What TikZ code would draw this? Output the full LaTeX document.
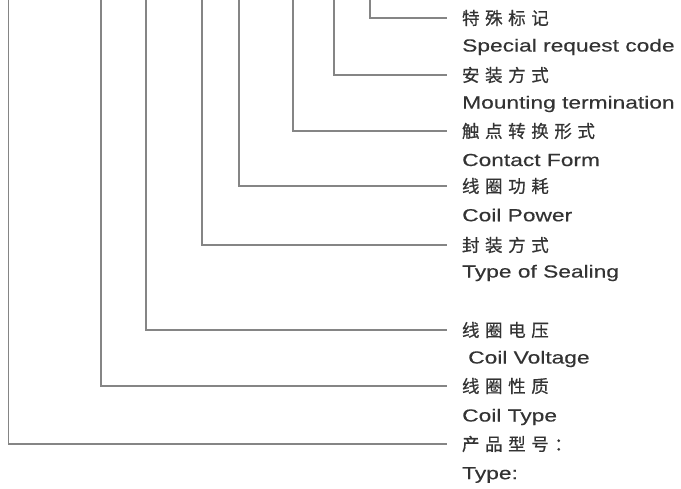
\documentclass[tikz,border=0pt]{standalone}
\usepackage{fontspec}
\setmainfont{Liberation Sans}[FakeStretch=1.3,FakeBold=0.35]
\newfontfamily\cjk{Noto Sans CJK SC}[LetterSpace=32,FakeBold=0.6]
\begin{document}
\begin{tikzpicture}[x=1pt,y=-1pt,
  conn/.style={draw=black!48,line width=1.4pt},
  cn/.style={anchor=west,inner sep=0pt,outer xsep=15pt,text=black!80,font=\cjk\fontsize{17.5}{18}\selectfont},
  en/.style={anchor=west,inner sep=0pt,text=black!80,font=\fontsize{17.5}{18}\selectfont}]
\useasboundingbox (0,0) rectangle (681,489);
\node[cn] (c1) at (447,18) {特殊标记};
\node[en] (e1) at (462,47) {Special request code};
\node[cn] (c2) at (447,75) {安装方式};
\node[en] (e2) at (462,104) {Mounting termination};
\node[cn] (c3) at (447,131) {触点转换形式};
\node[en] (e3) at (462,160) {Contact Form};
\node[cn] (c4) at (447,186) {线圈功耗};
\node[en] (e4) at (462,215) {Coil Power};
\node[cn] (c5) at (447,245) {封装方式};
\node[en] (e5) at (462,273) {Type of Sealing};
\node[cn] (c6) at (447,330) {线圈电压};
\node[en] (e6) at (468,359) {Coil Voltage};
\node[cn] (c7) at (447,386) {线圈性质};
\node[en] (e7) at (462,417) {Coil Type};
\node[cn] (c8) at (447,444) {产品型号：};
\node[en] (e8) at (462,475) {Type:};
\coordinate (t1) at (370,0);
\coordinate (t2) at (334,0);
\coordinate (t3) at (293,0);
\coordinate (t4) at (239,0);
\coordinate (t5) at (202,0);
\coordinate (t6) at (146,0);
\coordinate (t7) at (101,0);
\coordinate (t8) at (8.5,0);
\foreach \i in {1,...,8} \draw[conn] (t\i) |- (c\i.west);
\end{tikzpicture}
\end{document}
